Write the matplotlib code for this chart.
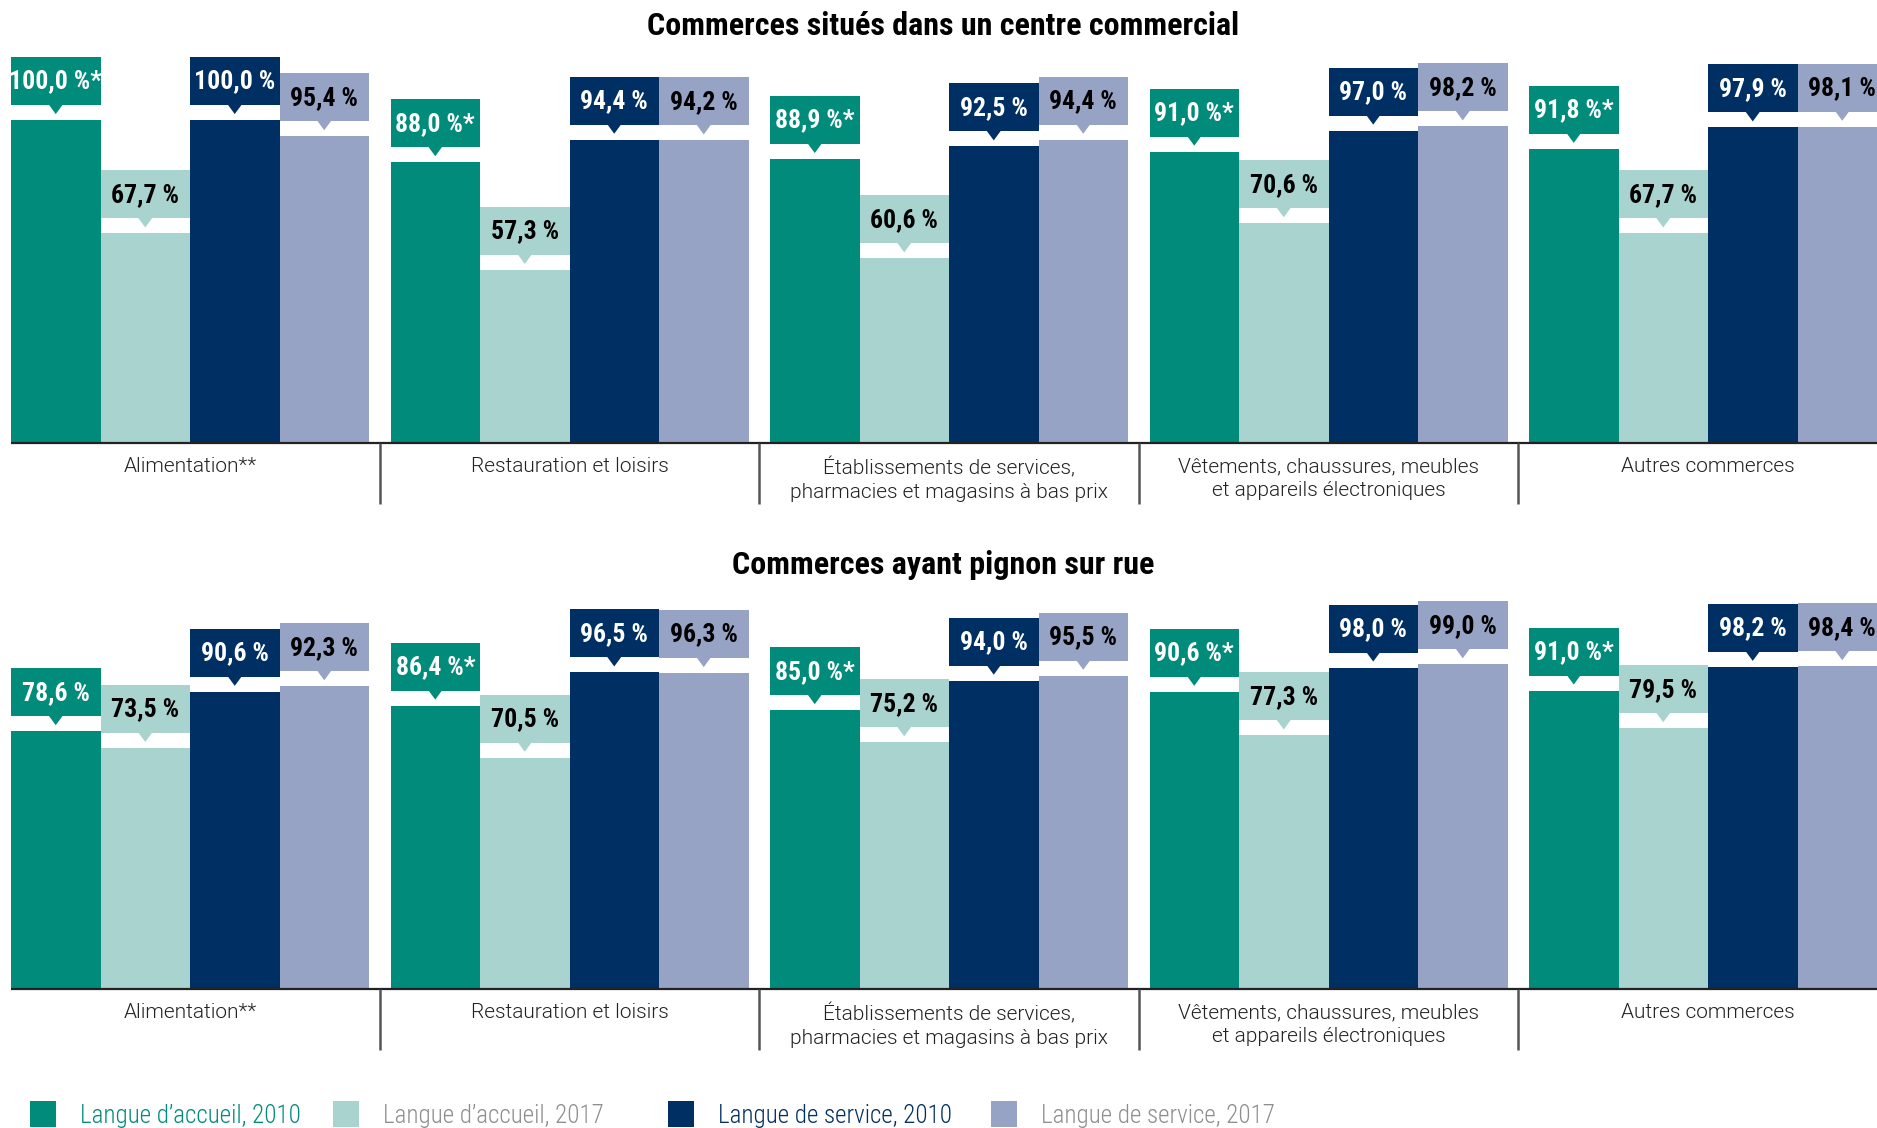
import matplotlib
matplotlib.use("Agg")
import matplotlib.pyplot as plt
from matplotlib.patches import Rectangle, Polygon
import matplotlib.font_manager as fm

# ---------------- data ----------------
categories = [
    "Alimentation**",
    "Restauration et loisirs",
    "Établissements de services,\npharmacies et magasins à bas prix",
    "Vêtements, chaussures, meubles\net appareils électroniques",
    "Autres commerces",
]
series_names = [
    "Langue d’accueil, 2010",
    "Langue d’accueil, 2017",
    "Langue de service, 2010",
    "Langue de service, 2017",
]
panel_titles = [
    "Commerces situés dans un centre commercial",
    "Commerces ayant pignon sur rue",
]
mall_accueil_2010 = [100.0, 88.0, 88.9, 91.0, 91.8]
mall_accueil_2017 = [67.7, 57.3, 60.6, 70.6, 67.7]
mall_service_2010 = [100.0, 94.4, 92.5, 97.0, 97.9]
mall_service_2017 = [95.4, 94.2, 94.4, 98.2, 98.1]
mall_star = [True, True, True, True, True]          # asterisk on "accueil 2010"

street_accueil_2010 = [78.6, 86.4, 85.0, 90.6, 91.0]
street_accueil_2017 = [73.5, 70.5, 75.2, 77.3, 79.5]
street_service_2010 = [90.6, 96.5, 94.0, 98.0, 98.2]
street_service_2017 = [92.3, 96.3, 95.5, 99.0, 98.4]
street_star = [False, True, True, True, True]

# ---------------- styles ----------------
bar_colors = ["#008B7B", "#A8D3CF", "#002F63", "#97A3C5"]
text_colors = ["white", "black", "white", "black"]
legend_text_colors = ["#008B7B", "#8E8E8E", "#002F63", "#8E8E8E"]


def pick_font(prefer, bold, condensed):
    best = None
    best_score = -1
    for f in fm.fontManager.ttflist:
        if f.style != "normal":
            continue
        nm = f.name.lower()
        fname = f.fname.lower()
        st = str(f.stretch)
        cond = ("condensed" in nm or "narrow" in nm or "condensed" in fname or "narrow" in fname
                or st in ("condensed", "semi-condensed", "extra-condensed", "ultra-condensed"))
        w = f.weight if isinstance(f.weight, int) else fm.weight_dict.get(f.weight, 400)
        if condensed and not cond:
            continue
        if not condensed and cond:
            continue
        if bold and w < 600:
            continue
        if not bold and not (250 <= w <= 450):
            continue
        score = 0
        for i, p in enumerate(prefer):
            if p.lower() in nm:
                score = 100 - i
                break
        if not bold:
            score += (10 if w == 300 else 0)
        if score > best_score:
            best_score = score
            best = f.fname
    return best


bold_cond_file = pick_font(["Liberation Sans Narrow", "Roboto Condensed", "Noto Sans", "Open Sans", "DejaVu Sans"], True, True)
light_file = pick_font(["Roboto", "Lato", "Open Sans", "Noto Sans", "Liberation Sans"], False, False)
light_cond_file = pick_font(["Liberation Sans Narrow", "Roboto Condensed", "Noto Sans", "Open Sans", "DejaVu Sans"], False, True)

if bold_cond_file:
    def FB(size):
        return fm.FontProperties(fname=bold_cond_file, size=size)
else:
    def FB(size):
        return fm.FontProperties(family="Roboto", weight="bold", size=size * 0.85)

if light_file:
    def FL(size):
        return fm.FontProperties(fname=light_file, size=size)
else:
    def FL(size):
        return fm.FontProperties(family="Roboto", size=size)

if light_cond_file:
    def FLC(size):
        return fm.FontProperties(fname=light_cond_file, size=size)
else:
    FLC = FL

# ---------------- geometry (pixels) ----------------
W, H = 1877, 1128
X0 = 11.0        # left px of first bar
BW = 89.5        # bar width px
PITCH = 379.5    # group pitch px
AX_H = 403.0

fig = plt.figure(figsize=(W / 100, H / 100), dpi=100)
fig.patch.set_facecolor("white")

# (baseline px from top, series, stars, y value at baseline, px per unit)
panels = [
    (443.0, [mall_accueil_2010, mall_accueil_2017, mall_service_2010, mall_service_2017], mall_star, 8.0, 3.51),
    (989.0, [street_accueil_2010, street_accueil_2017, street_service_2010, street_service_2017], street_star, 0.0, 3.28),
]
title_y_px = [26.0, 565.0]

xmax = (W - X0) / BW
gstep = PITCH / BW
xpp = 1.0 / BW

for p, (base_px, data, stars, ymin, pxpu) in enumerate(panels):
    upp = 1.0 / pxpu
    ax = fig.add_axes([X0 / W, (H - base_px) / H, (W - X0) / W, AX_H / H])
    ax.set_xlim(0, xmax)
    ax.set_ylim(ymin, ymin + AX_H * upp)
    ax.axis("off")

    for j, vals in enumerate(data):
        xs = [i * gstep + j + 0.5 for i in range(len(vals))]
        ax.bar(xs, vals, width=1.0, color=bar_colors[j], linewidth=0, zorder=2)
        for i, (x, v) in enumerate(zip(xs, vals)):
            bb = v + 15 * upp
            bh = 48 * upp
            ax.add_patch(Rectangle((x - 0.5, bb), 1.0, bh, facecolor=bar_colors[j],
                                   edgecolor="none", zorder=3))
            ax.add_patch(Polygon([(x - 7 * xpp, bb + 0.5 * upp), (x + 7 * xpp, bb + 0.5 * upp),
                                  (x, bb - 9 * upp)], closed=True, facecolor=bar_colors[j],
                                 edgecolor="none", zorder=3))
            label = f"{v:.1f}".replace(".", ",") + " %" + ("*" if (j == 0 and stars[i]) else "")
            ax.text(x, bb + bh / 2 - 0.5 * upp, label, ha="center", va="center",
                    color=text_colors[j], fontproperties=FB(18.5), zorder=4)

    # baseline
    ax.plot([0, xmax], [ymin, ymin], color="#222222", lw=1.6, clip_on=False, zorder=5,
            solid_capstyle="butt")
    # separators
    for i in range(1, len(categories)):
        xs_ = i * gstep - (gstep - 4) / 2
        ax.plot([xs_, xs_], [ymin, ymin - 61 * upp], color="#555555", lw=1.8,
                clip_on=False, zorder=5, solid_capstyle="butt")
    # category labels
    for i, cat in enumerate(categories):
        ax.text(i * gstep + 2.0, ymin - 14 * upp, cat, ha="center", va="top",
                color="#222222", fontproperties=FL(15), linespacing=1.3, clip_on=False)

    fig.text((X0 + (4 * PITCH + 4 * BW)) / 2 / W, 1 - title_y_px[p] / H, panel_titles[p],
             ha="center", va="center", color="black", fontproperties=FB(23))

# legend
leg_sq_x = [30, 333, 668, 991]
for k, name in enumerate(series_names):
    fig.patches.append(Rectangle((leg_sq_x[k] / W, 1 - 1127 / H), 26 / W, 26 / H,
                                 transform=fig.transFigure, facecolor=bar_colors[k],
                                 edgecolor="none"))
    fig.text((leg_sq_x[k] + 50) / W, 1 - 1116 / H, name, ha="left", va="center",
             color=legend_text_colors[k], fontproperties=FLC(18))

fig.savefig("out.png", dpi=100, facecolor="white")
